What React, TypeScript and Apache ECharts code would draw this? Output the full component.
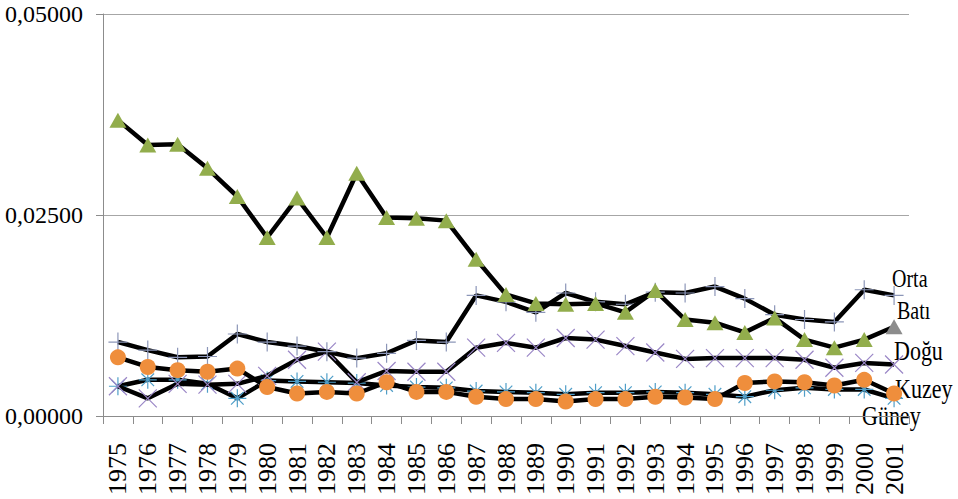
import React, { useEffect, useRef } from "react";
import * as echarts from "echarts";

const years = [
  "1975", "1976", "1977", "1978", "1979", "1980", "1981", "1982", "1983", "1984",
  "1985", "1986", "1987", "1988", "1989", "1990", "1991", "1992", "1993", "1994",
  "1995", "1996", "1997", "1998", "1999", "2000", "2001",
];

const bati = [
  0.0368, 0.0337, 0.0338, 0.0308, 0.0273, 0.0222, 0.0271, 0.0222, 0.0302, 0.0247,
  0.0246, 0.0243, 0.0195, 0.0151, 0.014, 0.0139, 0.014, 0.0129, 0.0156, 0.012,
  0.0116, 0.0104, 0.0122, 0.0095, 0.0085, 0.0095, 0.0111,
];

const orta = [
  0.0092, 0.0082, 0.0073, 0.0074, 0.0102, 0.0092, 0.0087, 0.008, 0.0072, 0.0078,
  0.0094, 0.0092, 0.015, 0.0142, 0.0129, 0.0153, 0.0142, 0.0139, 0.0154, 0.0153,
  0.0161, 0.0146, 0.0126, 0.012, 0.0117, 0.0157, 0.015,
];

const dogu = [
  0.0037, 0.0022, 0.004, 0.0039, 0.004, 0.005, 0.007, 0.008, 0.0042, 0.0056,
  0.0055, 0.0055, 0.0085, 0.0091, 0.0085, 0.0097, 0.0095, 0.0087, 0.0079, 0.0071,
  0.0072, 0.0072, 0.0072, 0.007, 0.006, 0.0066, 0.0064,
];

const kuzey = [
  0.0073, 0.0061, 0.0057, 0.0055, 0.0059, 0.0036, 0.0028, 0.003, 0.0028, 0.0042,
  0.003, 0.003, 0.0024, 0.0021, 0.0021, 0.0018, 0.0021, 0.0021, 0.0024, 0.0023,
  0.0021, 0.0041, 0.0043, 0.0042, 0.0038, 0.0045, 0.0028,
];

const guney = [
  0.0037, 0.0045, 0.0045, 0.004, 0.0022, 0.0044, 0.0043, 0.0042, 0.0041, 0.0038,
  0.0036, 0.0035, 0.0031, 0.003, 0.0029, 0.0027, 0.0029, 0.0029, 0.003, 0.0029,
  0.0027, 0.0024, 0.0032, 0.0035, 0.0033, 0.0033, 0.0022,
];

const seriesNames = ["Orta", "Batı", "Doğu", "Kuzey", "Güney"];

const FONT = "'Liberation Serif', 'Times New Roman', serif";

export default function App() {
  const ref = useRef<HTMLDivElement>(null);

  useEffect(() => {
    if (!ref.current) return;
    const chart = echarts.init(ref.current, null, { renderer: "svg" });

    const lineStyle = { color: "#000000", width: 4.5 };
    const batiData = bati.map((v, i) =>
      i === bati.length - 1 ? { value: v, itemStyle: { color: "#8c8c8c" } } : v
    );

    const option = {
      animation: false,
      backgroundColor: "#ffffff",
      grid: {
        left: 103,
        right: 49,
        top: 14,
        bottom: 83,
        containLabel: false,
        outerBoundsMode: "none",
      },
      xAxis: {
        type: "category",
        data: years,
        boundaryGap: true,
        axisLine: { show: true, lineStyle: { color: "#8c8c8c", width: 1 } },
        axisTick: { show: true, length: 8, lineStyle: { color: "#8c8c8c" } },
        axisLabel: {
          rotate: 90,
          interval: 0,
          margin: 27,
          color: "#000000",
          fontFamily: FONT,
          fontSize: 26,
          hideOverlap: false,
        },
      },
      yAxis: {
        type: "value",
        min: 0,
        max: 0.05,
        interval: 0.025,
        axisLine: { show: true, lineStyle: { color: "#8c8c8c", width: 1 } },
        axisTick: { show: true, length: 7, lineStyle: { color: "#8c8c8c" } },
        splitLine: { show: true, lineStyle: { color: "#a6a6a6", width: 1 } },
        axisLabel: {
          margin: 20,
          color: "#000000",
          fontFamily: FONT,
          fontSize: 24,
          formatter: (v: number) => v.toFixed(5).replace(".", ","),
        },
      },
      series: [
        {
          name: seriesNames[4],
          type: "line",
          data: guney,
          showAllSymbol: true,
          symbol: "path://M0,5L10,5M5,0L5,10M1.5,1.5L8.5,8.5M8.5,1.5L1.5,8.5",
          symbolSize: 18,
          lineStyle,
          itemStyle: { color: "none", borderColor: "#4f9ec8", borderWidth: 1.2 },
          z: 2,
        },
        {
          name: seriesNames[2],
          type: "line",
          data: dogu,
          showAllSymbol: true,
          symbol: "path://M0,0L10,10M10,0L0,10",
          symbolSize: 18,
          lineStyle,
          itemStyle: { color: "none", borderColor: "#9a86c6", borderWidth: 1.2 },
          z: 3,
        },
        {
          name: seriesNames[0],
          type: "line",
          data: orta,
          showAllSymbol: true,
          symbol: "path://M0,5L10,5M5,0L5,10",
          symbolSize: 19,
          lineStyle,
          itemStyle: { color: "none", borderColor: "#8c96b8", borderWidth: 1.2 },
          z: 4,
        },
        {
          name: seriesNames[3],
          type: "line",
          data: kuzey,
          showAllSymbol: true,
          symbol: "circle",
          symbolSize: 16,
          lineStyle,
          itemStyle: { color: "#ef8e3c", borderWidth: 0 },
          z: 5,
        },
        {
          name: seriesNames[1],
          type: "line",
          data: batiData,
          showAllSymbol: true,
          symbol: "triangle",
          symbolSize: [17, 15],
          lineStyle,
          itemStyle: { color: "#92ad4c", borderWidth: 0 },
          z: 6,
        },
      ],
      graphic: [
        { type: "text", x: 892, y: 278, scaleY: 1.3, style: { text: seriesNames[0], font: `20px ${FONT}`, fill: "#000", textAlign: "left", textVerticalAlign: "middle" } },
        { type: "text", x: 897, y: 310, scaleY: 1.3, style: { text: seriesNames[1], font: `20px ${FONT}`, fill: "#000", textAlign: "left", textVerticalAlign: "middle" } },
        { type: "text", x: 894, y: 351, scaleY: 1.25, style: { text: seriesNames[2], font: `22px ${FONT}`, fill: "#000", textAlign: "left", textVerticalAlign: "middle" } },
        { type: "text", x: 895, y: 389, scaleY: 1.25, style: { text: seriesNames[3], font: `22px ${FONT}`, fill: "#000", textAlign: "left", textVerticalAlign: "middle" } },
        { type: "text", x: 862, y: 416, scaleY: 1.25, style: { text: seriesNames[4], font: `22px ${FONT}`, fill: "#000", textAlign: "left", textVerticalAlign: "middle" } },
      ],
    };

    chart.setOption(option as any);
    return () => chart.dispose();
  }, []);

  return (
    <div
      ref={ref}
      style={{ position: "absolute", left: 0, top: 0, width: 958, height: 499, background: "#fff" }}
    />
  );
}
